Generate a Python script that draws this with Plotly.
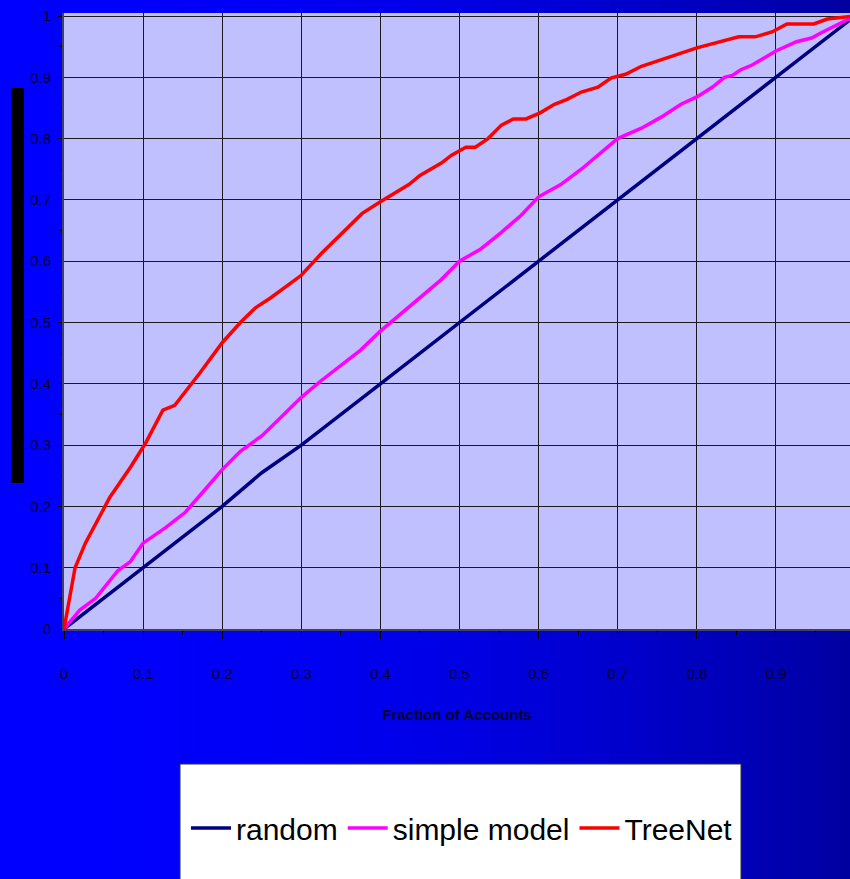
import plotly.graph_objects as go

# ---------------- data ----------------
random_x = [0, 0.1, 0.2, 0.25, 0.3, 0.4, 0.5, 0.6, 0.7, 0.8, 0.9, 1.0]
random_y = [0, 0.1, 0.2, 0.255, 0.3, 0.4, 0.5, 0.6, 0.7, 0.8, 0.9, 1.0]

simple_x = [0, 0.02, 0.04, 0.068, 0.084, 0.1, 0.128, 0.153, 0.18, 0.2, 0.223, 0.25,
            0.274, 0.3, 0.325, 0.35, 0.375, 0.4, 0.426, 0.45, 0.477, 0.5, 0.527,
            0.553, 0.578, 0.6, 0.628, 0.654, 0.68, 0.7, 0.73, 0.755, 0.78, 0.8,
            0.82, 0.835, 0.845, 0.855, 0.87, 0.89, 0.9, 0.926, 0.945, 0.958, 0.98, 1.0]
simple_y = [0, 0.031, 0.05, 0.095, 0.11, 0.14, 0.165, 0.19, 0.23, 0.26, 0.29, 0.315,
            0.345, 0.378, 0.405, 0.43, 0.455, 0.486, 0.515, 0.54, 0.57, 0.6, 0.62,
            0.647, 0.675, 0.705, 0.725, 0.75, 0.778, 0.8, 0.817, 0.835, 0.856, 0.868,
            0.884, 0.9, 0.903, 0.912, 0.92, 0.935, 0.943, 0.958, 0.964, 0.973, 0.988, 1.0]

treenet_x = [0, 0.014, 0.027, 0.058, 0.084, 0.103, 0.125, 0.14, 0.172, 0.2, 0.223,
             0.242, 0.261, 0.3, 0.325, 0.35, 0.377, 0.4, 0.436, 0.45, 0.477, 0.49,
             0.508, 0.52, 0.536, 0.553, 0.568, 0.584, 0.602, 0.62, 0.636, 0.654,
             0.675, 0.692, 0.71, 0.73, 0.8, 0.853, 0.874, 0.895, 0.914, 0.948,
             0.965, 1.0]
treenet_y = [0, 0.1, 0.14, 0.215, 0.264, 0.303, 0.357, 0.365, 0.418, 0.467, 0.5,
             0.524, 0.54, 0.577, 0.612, 0.644, 0.678, 0.697, 0.725, 0.74, 0.76, 0.773,
             0.786, 0.786, 0.8, 0.822, 0.832, 0.832, 0.842, 0.856, 0.864, 0.876,
             0.884, 0.899, 0.905, 0.918, 0.948, 0.966, 0.966, 0.974, 0.987, 0.987,
             0.995, 1.0]

x_ticks = [0, 0.1, 0.2, 0.3, 0.4, 0.5, 0.6, 0.7, 0.8, 0.9]
x_tick_labels = ["0", "0.1", "0.2", "0.3", "0.4", "0.5", "0.6", "0.7", "0.8", "0.9"]
y_ticks = [0, 0.1, 0.2, 0.3, 0.4, 0.5, 0.6, 0.7, 0.8, 0.9, 1.0]
y_tick_labels = ["0", "0.1", "0.2", "0.3", "0.4", "0.5", "0.6", "0.7", "0.8", "0.9", "1"]

# ---------------- layout geometry ----------------
W, H = 850, 879
ML, MR, MT, MB = 64, 0, 13, 250
PW, PH = W - ML - MR, H - MT - MB

def px(xp):
    return (xp - ML) / PW

def py(yp):
    return (H - MB - yp) / PH

FONT = "Liberation Sans, Arial, sans-serif"

fig = go.Figure()
fig.add_trace(go.Scatter(x=random_x, y=random_y, mode="lines", name="random",
                         line=dict(color="#000080", width=3.5)))
fig.add_trace(go.Scatter(x=simple_x, y=simple_y, mode="lines", name="simple model",
                         line=dict(color="#FF00FF", width=3.5)))
fig.add_trace(go.Scatter(x=treenet_x, y=treenet_y, mode="lines", name="TreeNet",
                         line=dict(color="#FF0000", width=3.5)))

shapes = []
# horizontal blue gradient background
step = 10
for i in range(0, W, step):
    t = (i + step / 2) / W
    b = int(round(255 - 95 * t ** 2))
    shapes.append(dict(type="rect", xref="paper", yref="paper", layer="below",
                       x0=px(i), x1=px(i + step + 1), y0=py(H), y1=py(0),
                       line=dict(width=0), fillcolor=f"rgb(0,0,{b})"))
# plot area background
shapes.append(dict(type="rect", xref="paper", yref="paper", layer="below",
                   x0=0, x1=1, y0=0, y1=1, line=dict(width=0), fillcolor="#C0C0FF"))
# black bar (y-axis title block)
shapes.append(dict(type="rect", xref="paper", yref="paper", layer="below",
                   x0=px(11), x1=px(24), y0=py(483), y1=py(88),
                   line=dict(width=0), fillcolor="#000000"))
# legend box
shapes.append(dict(type="rect", xref="paper", yref="paper", layer="below",
                   x0=px(180), x1=px(741), y0=py(H + 5), y1=py(764),
                   line=dict(width=1, color="#303030"), fillcolor="#FFFFFF"))

fig.update_layout(
    width=W, height=H,
    margin=dict(l=ML, r=MR, t=MT, b=MB, pad=0),
    paper_bgcolor="#0000FF",
    plot_bgcolor="rgba(0,0,0,0)",
    shapes=shapes,
    showlegend=True,
    legend=dict(orientation="h", x=px(186), xanchor="left", y=py(828), yanchor="middle",
                bgcolor="rgba(0,0,0,0)", font=dict(family=FONT, size=30, color="#000000"),
                itemwidth=40),
    xaxis=dict(range=[0, PW / 791.0], tickvals=x_ticks, ticktext=x_tick_labels,
               showgrid=True, gridcolor="#1a1a1a", gridwidth=1, zeroline=False,
               showline=True, linecolor="#404060", linewidth=2,
               ticks="outside", ticklen=8, tickcolor="#000000", tickwidth=1,
               ticklabelstandoff=22,
               minor=dict(dtick=0.05, tick0=0, ticks="outside", ticklen=4,
                          tickcolor="#000000", showgrid=False),
               tickfont=dict(family=FONT, size=15, color="#000033"),
               title=dict(text="<b>Fraction of Accounts</b>", standoff=28,
                          font=dict(family=FONT, size=15, color="#000033")),
               automargin=False),
    yaxis=dict(range=[0, PH / 613.0], tickvals=y_ticks, ticktext=y_tick_labels,
               showgrid=True, gridcolor="#1a1a1a", gridwidth=1, zeroline=False,
               showline=True, linecolor="#404060", linewidth=2,
               ticks="outside", ticklen=4, tickcolor="#000000", tickwidth=1,
               ticklabelstandoff=4,
               minor=dict(dtick=0.05, tick0=0, ticks="outside", ticklen=3,
                          tickcolor="#000000", showgrid=False),
               tickfont=dict(family=FONT, size=15, color="#000033"),
               automargin=False),
)

fig.write_html("out.html", config={"displayModeBar": False},
               post_script="document.body.style.margin='0px';document.body.style.padding='0px';")
